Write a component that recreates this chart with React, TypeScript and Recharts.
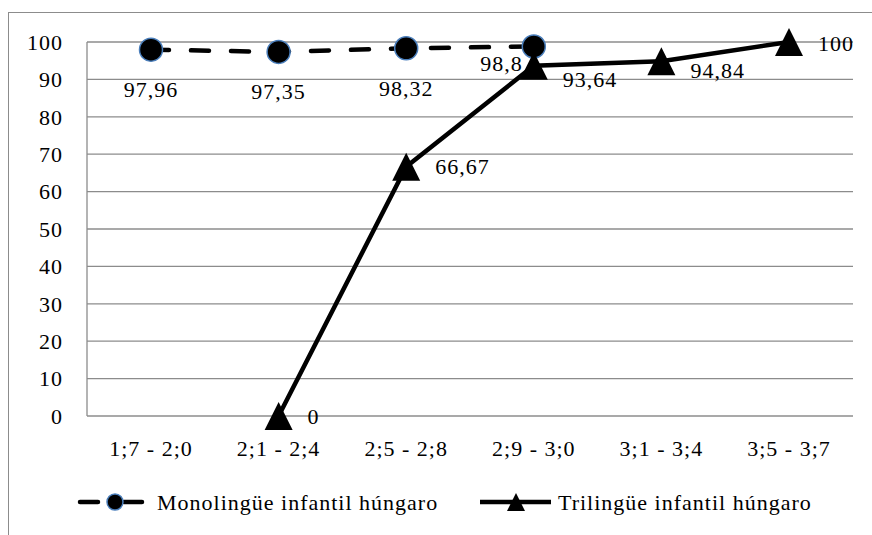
import { LineChart, Line, XAxis, YAxis, CartesianGrid, LabelList } from 'recharts';

const categories = ['1;7 - 2;0', '2;1 - 2;4', '2;5 - 2;8', '2;9 - 3;0', '3;1 - 3;4', '3;5 - 3;7'];
const monolingual = [97.96, 97.35, 98.32, 98.8, null, null];
const trilingual = [null, 0, 66.67, 93.64, 94.84, 100];
const yTicks = [0, 10, 20, 30, 40, 50, 60, 70, 80, 90, 100];
const seriesNames = ['Monolingüe infantil húngaro', 'Trilingüe infantil húngaro'];

const data = categories.map((name, i) => ({
  name,
  mono: monolingual[i],
  tri: trilingual[i],
}));

const FONT = 'Liberation Serif';
const GRID = '#8c8c8c';
const fmt = (v: number) => String(v).replace('.', ',');

const CircleDot = (props: any) => {
  const { cx, cy, value } = props;
  if (value == null || cx == null) return null;
  return <circle cx={cx} cy={cy} r={11.5} fill="#000" stroke="#4a7ebb" strokeWidth={1.5} />;
};

const TriangleDot = (props: any) => {
  const { cx, cy, value } = props;
  if (value == null || cx == null) return null;
  return <path d={`M${cx},${cy - 14} L${cx + 14},${cy + 14} L${cx - 14},${cy + 14} Z`} fill="#000" />;
};

const MonoLabel = (props: any) => {
  const { x, y, value, index } = props;
  if (value == null) return null;
  // last label sits up and to the left in the original
  const shifted = index === 3;
  return (
    <text
      x={shifted ? x - 11 : x}
      y={shifted ? y + 17 : y + 40}
      textAnchor={shifted ? 'end' : 'middle'}
      dominantBaseline="central"
      style={{ fontFamily: FONT, fontSize: 22, letterSpacing: 1 }}
      fill="#000"
    >
      {fmt(value)}
    </text>
  );
};

const triNudge = [0, 0, 0, 14, 9, 1];
const TriLabel = (props: any) => {
  const { x, y, value, index } = props;
  if (value == null) return null;
  return (
    <text
      x={x + 29}
      y={y + (triNudge[index] || 0)}
      textAnchor="start"
      dominantBaseline="central"
      style={{ fontFamily: FONT, fontSize: 22, letterSpacing: 1 }}
      fill="#000"
    >
      {fmt(value)}
    </text>
  );
};

export default function App() {
  return (
    <div style={{ position: 'absolute', left: 0, top: 0, width: 872, height: 535, background: '#fff', overflow: 'hidden', fontFamily: FONT }}>
      <div
        style={{
          position: 'absolute',
          left: 8,
          top: 12,
          width: 900,
          height: 600,
          borderLeft: `1.5px solid ${GRID}`,
          borderTop: `1.5px solid ${GRID}`,
        }}
      />
      <LineChart width={872} height={535} data={data} margin={{ top: 42, right: 19, left: 0, bottom: 79 }} style={{ fontFamily: FONT }}>
        <CartesianGrid vertical={false} stroke={GRID} strokeWidth={1.3} />
        <XAxis
          dataKey="name"
          height={40}
          padding={{ left: 64, right: 64 }}
          axisLine={false}
          tickLine={false}
          tickSize={0}
          tickMargin={24}
          interval={0}
          tick={{ fill: '#000', fontSize: 22, style: { fontFamily: FONT, letterSpacing: 1 } }}
        />
        <YAxis
          width={87}
          domain={[0, 100]}
          ticks={yTicks}
          axisLine={{ stroke: GRID, strokeWidth: 1.3 }}
          tickLine={false}
          tickSize={0}
          tickMargin={24}
          tick={{ fill: '#000', fontSize: 22, style: { fontFamily: FONT, letterSpacing: 1 } }}
        />
        <Line
          dataKey="mono"
          name={seriesNames[0]}
          stroke="#000"
          strokeWidth={4.5}
          strokeDasharray="18 22"
          strokeLinecap="round"
          dot={<CircleDot />}
          activeDot={false}
          isAnimationActive={false}
        >
          <LabelList dataKey="mono" content={<MonoLabel />} />
        </Line>
        <Line
          dataKey="tri"
          name={seriesNames[1]}
          stroke="#000"
          strokeWidth={4.5}
          dot={<TriangleDot />}
          activeDot={false}
          isAnimationActive={false}
        >
          <LabelList dataKey="tri" content={<TriLabel />} />
        </Line>
      </LineChart>
      <div style={{ position: 'absolute', left: 0, top: 486, width: 872, height: 32 }}>
        <svg width={872} height={32} style={{ position: 'absolute', left: 0, top: 0 }}>
          <line x1={80} y1={16} x2={142} y2={16} stroke="#000" strokeWidth={4.5} strokeDasharray="18 26" strokeLinecap="round" />
          <circle cx={115} cy={16} r={8} fill="#000" stroke="#4a7ebb" strokeWidth={1.5} />
          <line x1={480} y1={16} x2={551} y2={16} stroke="#000" strokeWidth={4.5} />
          <path d="M516,7 L525,25 L507,25 Z" fill="#000" />
          <text x={157} y={16} dominantBaseline="central" style={{ fontFamily: FONT, fontSize: 22, letterSpacing: 1 }} fill="#000">
            {seriesNames[0]}
          </text>
          <text x={558} y={16} dominantBaseline="central" style={{ fontFamily: FONT, fontSize: 22, letterSpacing: 1 }} fill="#000">
            {seriesNames[1]}
          </text>
        </svg>
      </div>
    </div>
  );
}
